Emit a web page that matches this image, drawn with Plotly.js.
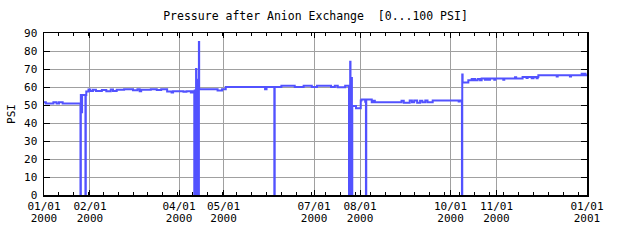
<!DOCTYPE html>
<html>
<head>
<meta charset="utf-8">
<script src="https://cdn.plot.ly/plotly-3.0.1.min.js"></script>
<style>html,body{margin:0;padding:0;background:#fff;}#chart{width:640px;height:240px;}</style>
</head>
<body>
<div id="chart"></div>
<script>
const times = [
"2000-01-01 00:00","2000-01-02 06:00","2000-01-07 08:00","2000-01-09 12:00","2000-01-11 03:00","2000-01-13 14:00",
"2000-01-25 14:00","2000-01-25 20:00","2000-01-26 12:00","2000-01-26 16:00","2000-01-28 22:00","2000-01-29 04:00",
"2000-01-29 12:00","2000-01-31 00:00","2000-02-01 06:00","2000-02-03 00:00","2000-02-05 00:00","2000-02-09 00:00",
"2000-02-12 00:00","2000-02-15 00:00","2000-02-16 12:00","2000-02-19 00:00","2000-02-24 00:00","2000-03-01 00:00",
"2000-03-04 00:00","2000-03-05 12:00","2000-03-06 12:00","2000-03-13 00:00","2000-03-17 00:00","2000-03-20 00:00",
"2000-03-24 00:00","2000-03-27 00:00","2000-03-28 00:00","2000-04-04 00:00","2000-04-06 00:00","2000-04-09 00:00",
"2000-04-10 00:00",
"2000-04-11 07:00","2000-04-11 14:00","2000-04-11 19:00","2000-04-12 02:00","2000-04-12 07:00","2000-04-12 12:00",
"2000-04-12 17:00","2000-04-13 00:00","2000-04-13 05:00","2000-04-13 12:00","2000-04-13 17:00","2000-04-14 00:00",
"2000-04-14 05:00","2000-04-14 10:00","2000-04-14 14:00",
"2000-04-27 00:00","2000-04-30 00:00","2000-05-02 12:00","2000-05-29 00:00","2000-05-30 00:00","2000-06-04 06:00",
"2000-06-04 12:00","2000-06-09 00:00","2000-06-18 00:00","2000-06-24 00:00","2000-06-29 12:00","2000-07-03 00:00",
"2000-07-12 12:00","2000-07-15 00:00","2000-07-17 00:00","2000-07-22 00:00",
"2000-07-24 14:00","2000-07-24 20:00","2000-07-25 02:00","2000-07-25 09:00","2000-07-25 14:00","2000-07-25 20:00",
"2000-07-26 02:00","2000-07-26 08:00","2000-07-26 13:00","2000-07-26 19:00","2000-07-29 07:00",
"2000-08-01 12:00","2000-08-02 00:00","2000-08-04 12:00","2000-08-05 00:00","2000-08-05 05:00","2000-08-08 22:00",
"2000-08-10 05:00","2000-08-11 00:00","2000-08-29 00:00","2000-08-30 12:00","2000-09-03 12:00","2000-09-05 00:00",
"2000-09-06 12:00","2000-09-08 12:00","2000-09-10 12:00","2000-09-12 00:00","2000-09-14 00:00","2000-09-15 12:00",
"2000-09-19 00:00","2000-10-06 12:00","2000-10-07 06:00",
"2000-10-08 17:00","2000-10-08 22:00","2000-10-09 04:00","2000-10-13 00:00","2000-10-15 07:00","2000-10-16 00:00",
"2000-10-16 10:00","2000-10-17 12:00","2000-10-19 07:00","2000-10-20 22:00","2000-10-22 00:00","2000-10-24 05:00",
"2000-10-25 10:00","2000-10-26 12:00","2000-10-27 14:00","2000-10-30 12:00","2000-10-31 06:00","2000-11-05 14:00",
"2000-11-06 06:00","2000-11-13 12:00","2000-11-14 06:00","2000-11-18 14:00","2000-11-21 06:00","2000-11-22 00:00",
"2000-11-24 17:00","2000-11-26 00:00","2000-11-28 00:00","2000-11-28 18:00","2000-11-29 05:00","2000-12-11 14:00",
"2000-12-12 06:00","2000-12-20 12:00","2000-12-21 06:00","2000-12-28 10:00","2000-12-29 06:00","2000-12-30 06:00",
"2000-12-31 00:00","2000-12-31 23:59"
];
const psi = [
51.5,50.8,51.5,50.8,51.5,50.8,
0,55.5,46,55.5,0,55.5,
57.5,58.6,57.8,58.5,57.8,58.3,
57.7,58.6,57.8,58.5,58.7,58.2,
58.8,57.6,58.5,58.7,58.4,58.8,
57.5,57.0,57.6,57.3,57.6,57.0,
57.6,
0,58,0,58,0,70,
0,64,0,58,0,58,
0,85,58.8,
58.0,58.8,60.0,58.8,60.0,0,
60.0,60.7,60.0,60.7,60.0,60.7,
60.0,60.7,59.9,60.7,
0,60.7,0,74,0,65,
0,65,0,49.5,48.2,
52.5,53.0,51.8,0,53.0,51.5,
52.3,51.5,52.3,51.3,52.5,51.5,
52.5,51.3,52.3,51.5,52.5,51.5,
52.5,52.0,52.5,
0,67,62.5,63.8,64.4,63.8,
64.4,63.8,64.4,63.8,64.7,64.0,
64.7,64.0,64.7,64.0,64.7,64.0,
64.7,65.4,64.7,65.5,65.0,65.5,
64.8,65.5,64.8,65.5,66.5,65.8,
66.5,65.8,66.5,67.4,66.5,67.4,
66.5,66.8
];
const tickDates = ["2000-01-01","2000-02-01","2000-04-01","2000-05-01","2000-07-01","2000-08-01","2000-10-01","2000-11-01","2001-01-01"];
const tickDays = ["01/01","02/01","04/01","05/01","07/01","08/01","10/01","11/01","01/01"];
const tickYears = ["2000","2000","2000","2000","2000","2000","2000","2000","2001"];
const yTicks = [0,10,20,30,40,50,60,70,80,90];

const font = {family: "DejaVu Sans Mono, monospace", size: 11, color: "#000"};
const trace = {
  x: times, y: psi, type: "scatter", mode: "lines",
  line: {color: "#5252ff", width: 2, shape: "hv"},
  hoverinfo: "skip"
};
const yearTrace = {
  x: [times[0]], y: [psi[0]], xaxis: "x2", type: "scatter", mode: "lines",
  line: {width: 0}, opacity: 0, hoverinfo: "skip"
};
const xRange = ["2000-01-01", "2001-01-01"];
const layout = {
  width: 640, height: 240,
  margin: {l: 44, r: 53, t: 33, b: 45, pad: 0},
  paper_bgcolor: "#fff", plot_bgcolor: "#fff",
  font: font,
  showlegend: false,
  title: {text: "Pressure after Anion Exchange  [0...100 PSI]", font: {family: font.family, size: 11.5, color: "#000"},
          xref: "paper", x: 0.5, xanchor: "center", yref: "container", y: 0.935, yanchor: "middle"},
  xaxis: {
    type: "date", range: xRange,
    tickmode: "array", tickvals: tickDates, ticktext: tickDays,
    ticks: "inside", ticklen: 5, tickwidth: 1, tickcolor: "#000",
    showline: true, linecolor: "#000", linewidth: 1.5, mirror: "ticks",
    showgrid: true, gridcolor: "#a0a0a0", gridwidth: 1,
    zeroline: false,
    minor: {ticks: "inside", dtick: 864000000, tick0: "2000-01-01", ticklen: 3, tickcolor: "#000", showgrid: false},
    tickfont: font
  },
  xaxis2: {
    type: "date", range: xRange, overlaying: "x", anchor: "y", side: "bottom",
    tickmode: "array", tickvals: tickDates, ticktext: tickYears,
    ticks: "", showline: false, showgrid: false, zeroline: false,
    ticklabelstandoff: 15,
    tickfont: font
  },
  yaxis: {
    range: [0, 90], tickmode: "array", tickvals: yTicks,
    ticks: "inside", ticklen: 6, tickwidth: 1, tickcolor: "#000",
    showline: true, linecolor: "#000", linewidth: 1.5, mirror: "ticks",
    showgrid: true, gridcolor: "#a0a0a0", gridwidth: 1,
    zeroline: false,
    ticklabelstandoff: 3,
    tickfont: font,
    title: {text: "PSI", font: font, standoff: 6}
  }
};
Plotly.newPlot("chart", [trace, yearTrace], layout, {staticPlot: true, displayModeBar: false});
</script>
</body>
</html>
